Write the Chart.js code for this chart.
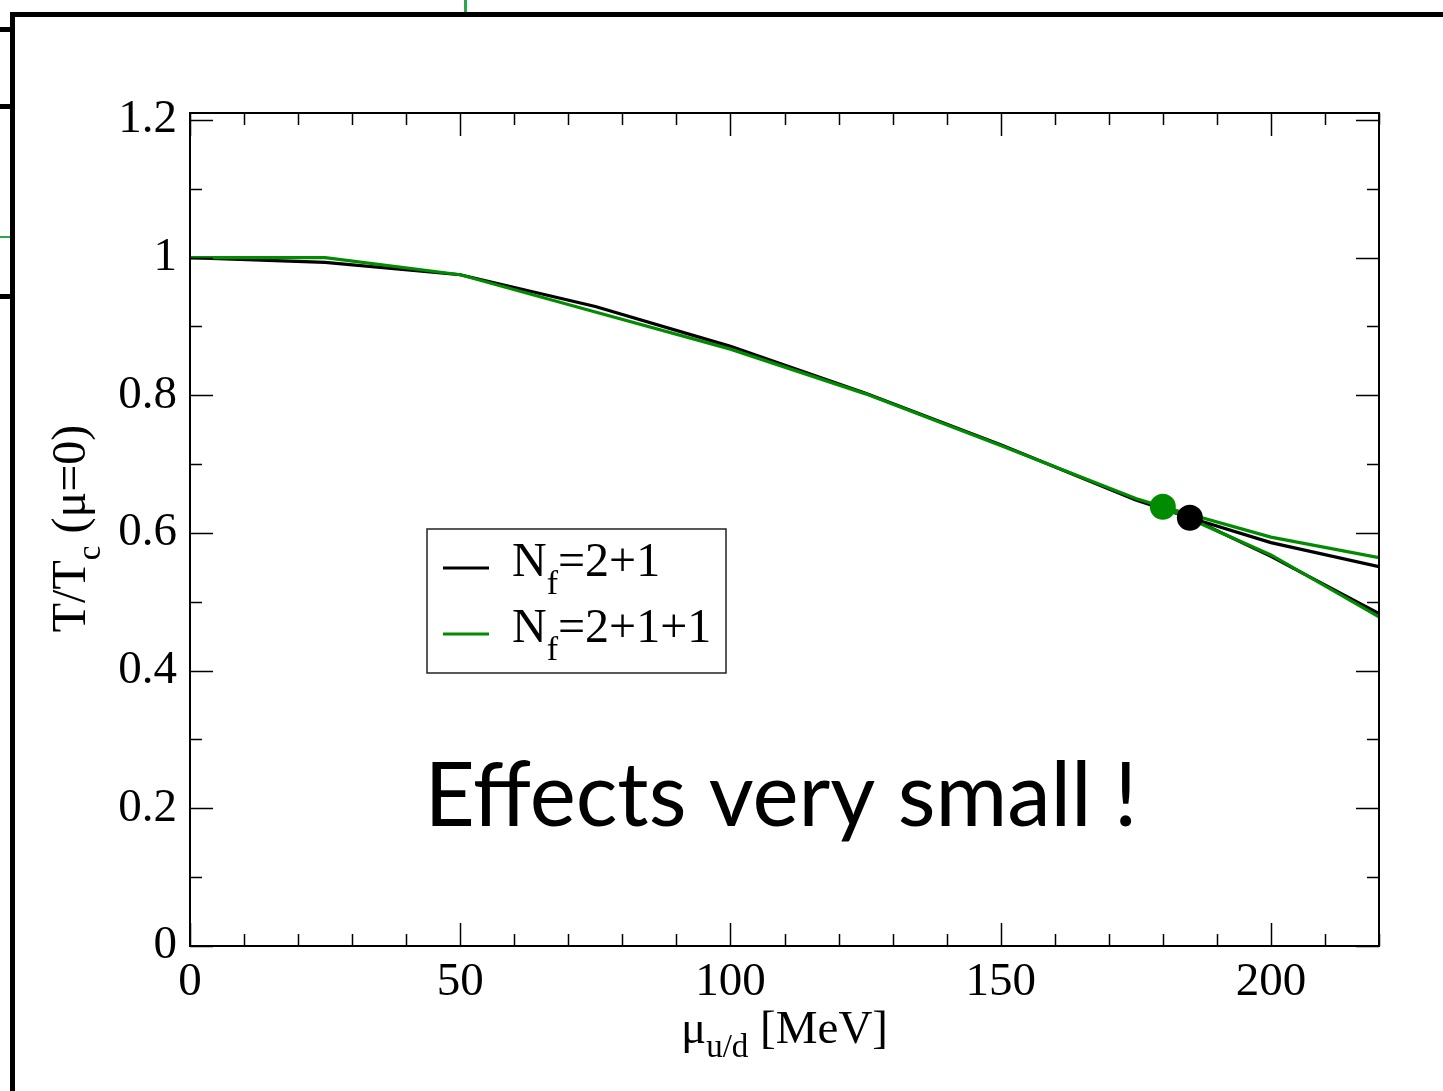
<!DOCTYPE html>
<html>
<head>
<meta charset="utf-8">
<title>T/Tc(mu=0) vs mu_u/d</title>
<script src="https://cdn.jsdelivr.net/npm/chart.js@4.4.1/dist/chart.umd.min.js"></script>
<style>
  html, body { margin: 0; padding: 0; background: #fff; }
  .page { position: relative; width: 1443px; height: 1091px; overflow: hidden; }
  .page canvas { position: absolute; left: 0; top: 0; }
  .deco { position: absolute; background: #000; }
  .deco.green { background: #2aa84a; }
</style>
</head>
<body>
<div class="page">
  <canvas id="chart" width="1443" height="1091"></canvas>
  <!-- bits of the slide frame around the plot -->
  <div class="deco" style="left:10px; top:12px; width:1433px; height:5px;"></div>
  <div class="deco" style="left:10px; top:12px; width:5px; height:1079px;"></div>
  <div class="deco" style="left:0; top:27px; width:10px; height:5px;"></div>
  <div class="deco" style="left:0; top:104px; width:10px; height:5px;"></div>
  <div class="deco" style="left:0; top:294px; width:10px; height:5px;"></div>
  <div class="deco green" style="left:0; top:236px; width:10px; height:2px;"></div>
  <div class="deco green" style="left:464px; top:0; width:3px; height:12px;"></div>
</div>
<script>
// mu_u/d [MeV] where the curves have kinks
const muGrid = [0, 25, 50, 75, 100, 125, 150, 175];
const tNf21 = [1.0, 0.993, 0.975, 0.929, 0.871, 0.803, 0.728, 0.648];
const tNf211 = [1.0, 1.0, 0.975, 0.921, 0.867, 0.802, 0.727, 0.650];

// critical end points: [Nf=2+1, Nf=2+1+1]
const critMu = [185, 180];
const critT = [0.622, 0.638];

// the two branches past the critical point
const muBranch = [200, 220];
const tNf21Upper = [0.586, 0.551];
const tNf21Lower = [0.566, 0.483];
const tNf211Upper = [0.594, 0.564];
const tNf211Lower = [0.568, 0.478];

const seriesNames = [['N', 'f', '=2+1'], ['N', 'f', '=2+1+1']];
const seriesColors = ['#000000', '#008b00'];

const xMax = 220;
const yMax = 1.21;
const serif = '"Liberation Serif", "Times New Roman", serif';

const pts = (xs, ys) => xs.map((v, i) => ({ x: v, y: ys[i] }));
const withCrit = (k, xs, ys, before) => before
  ? pts(xs, ys).concat([{ x: critMu[k], y: critT[k] }])
  : [{ x: critMu[k], y: critT[k] }].concat(pts(xs, ys));

function lineSet(data, k) {
  return {
    data: data,
    borderColor: seriesColors[k],
    borderWidth: 3.2,
    pointRadius: 0,
    showLine: true,
    fill: false,
    tension: 0,
    order: k === 0 ? 3 : 2
  };
}

// text with subscripts, parts = [text, sub, text]
function drawParts(ctx, parts, x, y, size, subSize, subDrop) {
  let cx = x;
  parts.forEach((t, i) => {
    const sub = i % 2 === 1;
    ctx.font = (sub ? subSize : size) + 'px ' + serif;
    ctx.fillText(t, cx, y + (sub ? subDrop : 0));
    cx += ctx.measureText(t).width;
  });
}
function partsWidth(ctx, parts, size, subSize) {
  let w = 0;
  parts.forEach((t, i) => {
    ctx.font = (i % 2 === 1 ? subSize : size) + 'px ' + serif;
    w += ctx.measureText(t).width;
  });
  return w;
}

const framePlugin = {
  id: 'framePlugin',
  afterDraw(chart) {
    const { ctx, chartArea: a, scales: { x, y } } = chart;
    ctx.save();
    ctx.strokeStyle = '#000';
    ctx.lineWidth = 1.5;
    ctx.beginPath();
    for (let v = 0; v <= xMax; v += 10) {
      const px = Math.round(x.getPixelForValue(v)) + 0.5;
      const len = v % 50 === 0 ? 23 : 12;
      ctx.moveTo(px, a.bottom); ctx.lineTo(px, a.bottom - len);
      ctx.moveTo(px, a.top); ctx.lineTo(px, a.top + len);
    }
    for (let i = 0; i <= 12; i++) {
      const py = Math.round(y.getPixelForValue(i / 10)) + 0.5;
      const len = i % 2 === 0 ? 23 : 12;
      ctx.moveTo(a.left, py); ctx.lineTo(a.left + len, py);
      ctx.moveTo(a.right, py); ctx.lineTo(a.right - len, py);
    }
    ctx.stroke();
    ctx.lineWidth = 2;
    ctx.strokeRect(a.left, a.top, a.right - a.left, a.bottom - a.top);

    // axis titles
    ctx.fillStyle = '#000';
    ctx.textBaseline = 'alphabetic';
    ctx.textAlign = 'left';
    const xTitle = ['\u03bc', 'u/d', ' [MeV]'];
    const xw = partsWidth(ctx, xTitle, 47, 33);
    drawParts(ctx, xTitle, (a.left + a.right) / 2 - xw / 2, 1043, 47, 33, 14);

    const yTitle = ['T/T', 'c', ' (\u03bc=0)'];
    const yw = partsWidth(ctx, yTitle, 48, 33);
    ctx.save();
    ctx.translate(85, (a.top + a.bottom) / 2 - 1);
    ctx.rotate(-Math.PI / 2);
    drawParts(ctx, yTitle, -yw / 2, 0, 48, 33, 15);
    ctx.restore();

    // legend
    const lx = a.left + 237, ly = a.top + 416, lw = 299, lh = 144;
    ctx.fillStyle = '#fff';
    ctx.fillRect(lx, ly, lw, lh);
    ctx.strokeStyle = '#222';
    ctx.lineWidth = 1.5;
    ctx.strokeRect(lx, ly, lw, lh);
    seriesNames.forEach((parts, k) => {
      const rowY = ly + 39 + k * 66;
      ctx.strokeStyle = seriesColors[k];
      ctx.lineWidth = 3;
      ctx.beginPath();
      ctx.moveTo(lx + 16, rowY); ctx.lineTo(lx + 62, rowY);
      ctx.stroke();
      ctx.fillStyle = '#000';
      drawParts(ctx, parts, lx + 85, rowY + 8, 48, 34, 18);
    });

    // annotation
    ctx.font = '90px Lato, "Open Sans", sans-serif';
    const note = 'Effects very small !';
    const nw = ctx.measureText(note).width;
    const target = 713;
    ctx.save();
    ctx.translate(781, 826);
    ctx.scale(target / nw, 1);
    ctx.textAlign = 'center';
    ctx.fillText(note, 0, 0);
    ctx.restore();
    ctx.restore();
  }
};

const datasets = [
  {
    data: pts(critMu, critT),
    pointRadius: 13,
    pointHoverRadius: 13,
    pointBackgroundColor: seriesColors,
    pointBorderWidth: 0,
    showLine: false,
    order: 0
  },
  lineSet(withCrit(1, muGrid, tNf211, true), 1),
  lineSet(withCrit(1, muBranch, tNf211Upper, false), 1),
  lineSet(withCrit(1, muBranch, tNf211Lower, false), 1),
  lineSet(withCrit(0, muGrid, tNf21, true), 0),
  lineSet(withCrit(0, muBranch, tNf21Upper, false), 0),
  lineSet(withCrit(0, muBranch, tNf21Lower, false), 0)
];

new Chart(document.getElementById('chart').getContext('2d'), {
  type: 'scatter',
  data: { datasets: datasets },
  options: {
    responsive: false,
    animation: false,
    devicePixelRatio: 1,
    layout: { padding: { left: 0, top: 113, right: 64, bottom: 0 } },
    plugins: {
      legend: { display: false },
      tooltip: { enabled: false }
    },
    scales: {
      x: {
        type: 'linear',
        min: 0,
        max: xMax,
        grid: { display: false, drawTicks: false },
        border: { display: false },
        ticks: {
          stepSize: 50,
          includeBounds: false,
          padding: 8,
          color: '#000',
          font: { family: serif, size: 47 },
          maxRotation: 0
        },
        afterFit(scale) { scale.height = 145; }
      },
      y: {
        type: 'linear',
        min: 0,
        max: yMax,
        grid: { display: false, drawTicks: false },
        border: { display: false },
        ticks: {
          stepSize: 0.2,
          includeBounds: false,
          padding: 13,
          color: '#000',
          font: { family: serif, size: 47 },
          callback: (v) => String(Number(v.toFixed(1)))
        },
        afterFit(scale) { scale.width = 190; }
      }
    }
  },
  plugins: [framePlugin]
});
</script>
</body>
</html>
